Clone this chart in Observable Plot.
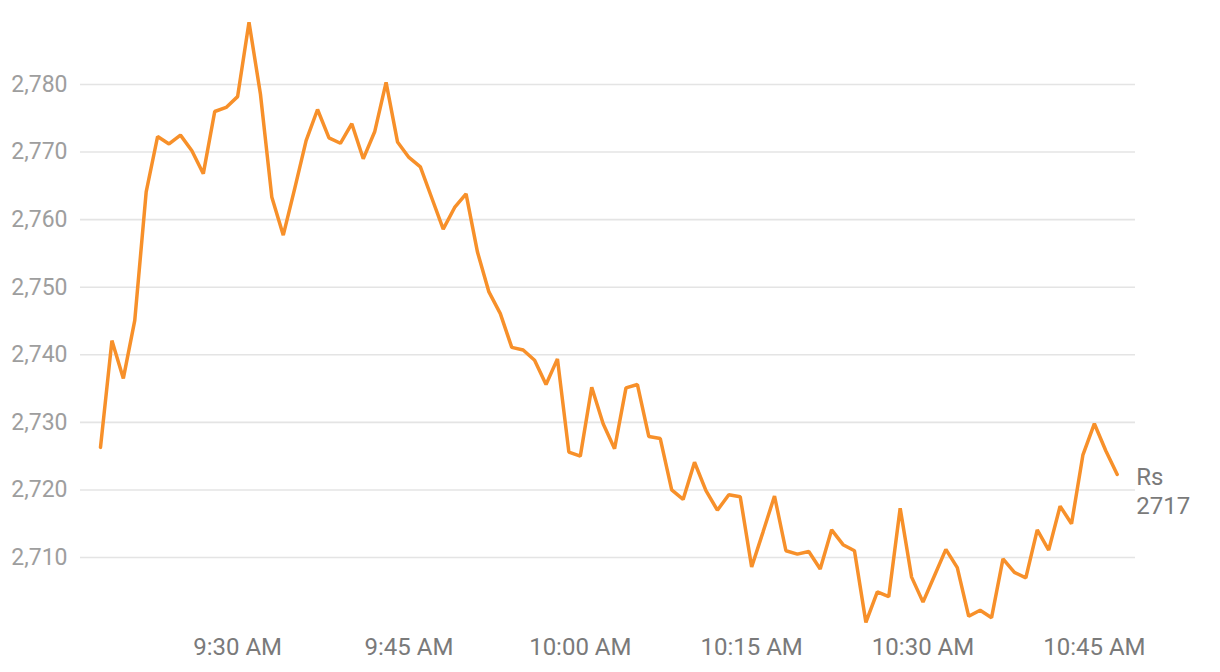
<!DOCTYPE html>
<html>
<head>
<meta charset="utf-8">
<script src="https://cdn.jsdelivr.net/npm/d3@7"></script>
<script src="https://cdn.jsdelivr.net/npm/@observablehq/plot@0.6"></script>
<style>
  html, body { margin: 0; padding: 0; background: #fff; }
  #chart svg { display: block; font-family: Roboto, "Noto Sans", sans-serif; }
</style>
</head>
<body>
<div id="chart"></div>
<script>
// Price sampled every minute from 09:18 to 10:47
const startTime = "09:18";
const prices = [
  2726.3, 2742.1, 2736.5, 2745.1, 2764.1, 2772.3, 2771.2, 2772.5, 2770.2, 2766.8,
  2776.0, 2776.6, 2778.2, 2789.2, 2778.6, 2763.3, 2757.7, 2764.6, 2771.7, 2776.3,
  2772.1, 2771.3, 2774.2, 2769.0, 2773.0, 2780.3, 2771.5, 2769.2, 2767.8, 2763.2,
  2758.6, 2761.8, 2763.8, 2755.2, 2749.3, 2746.1, 2741.1, 2740.7, 2739.2, 2735.6,
  2739.4, 2725.6, 2725.0, 2735.2, 2729.8, 2726.1, 2735.1, 2735.6, 2727.9, 2727.6,
  2720.0, 2718.6, 2724.1, 2719.9, 2717.0, 2719.3, 2719.0, 2708.6, 2713.8, 2719.1,
  2711.0, 2710.5, 2710.9, 2708.3, 2714.1, 2711.9, 2711.0, 2700.4, 2704.9, 2704.2,
  2717.3, 2707.1, 2703.4, 2707.3, 2711.2, 2708.5, 2701.3, 2702.2, 2701.1, 2709.8,
  2707.8, 2707.0, 2714.1, 2711.1, 2717.6, 2715.0, 2725.2, 2729.8, 2725.8, 2722.3
];
const yTicks = [2710, 2720, 2730, 2740, 2750, 2760, 2770, 2780];
const xTickLabels = ["09:30", "09:45", "10:00", "10:15", "10:30", "10:45"];
const xDomainLabels = ["09:16:15", "10:48:36"];
const yDomain = [2700, 2790];
const endLabel = ["Rs", "2717"];

const parseT = s => {
  const p = s.split(":").map(Number);
  return new Date(Date.UTC(2024, 0, 2, p[0], p[1], p[2] || 0));
};
const t0 = parseT(startTime);
const data = prices.map((v, i) => ({ t: new Date(+t0 + i * 60000), v }));
const last = data[data.length - 1];
const fmt = d3.utcFormat("%-I:%M %p");

const chart = Plot.plot({
  width: 1220,
  height: 672,
  marginLeft: 80,
  marginRight: 85,
  marginTop: 16.4,
  marginBottom: 47.4,
  style: { fontFamily: "Roboto, 'Noto Sans', sans-serif", background: "#fff" },
  x: { type: "utc", domain: xDomainLabels.map(parseT) },
  y: { domain: yDomain },
  marks: [
    Plot.ruleY(yTicks, { stroke: "#e4e4e4", strokeWidth: 1.6 }),
    Plot.axisY({
      ticks: yTicks, tickSize: 0, tickPadding: 13, tickFormat: d3.format(","),
      fontSize: 23, fill: "#9e9e9e", label: null
    }),
    Plot.axisX({
      ticks: xTickLabels.map(parseT), tickSize: 0, tickPadding: 13, tickFormat: fmt,
      fontSize: 24, fill: "#7a7a7a", label: null
    }),
    Plot.line(data, { x: "t", y: "v", stroke: "#f7902a", strokeWidth: 3.5, strokeLinejoin: "miter", strokeLinecap: "round" }),
    Plot.text([last], {
      x: "t", y: "v", text: () => endLabel.join("\n"),
      textAnchor: "start", lineAnchor: "top", dx: 19, dy: -10,
      fontSize: 24, lineHeight: 1.2, fill: "#7a7a7a"
    })
  ]
});
document.getElementById("chart").append(chart);
</script>
</body>
</html>
